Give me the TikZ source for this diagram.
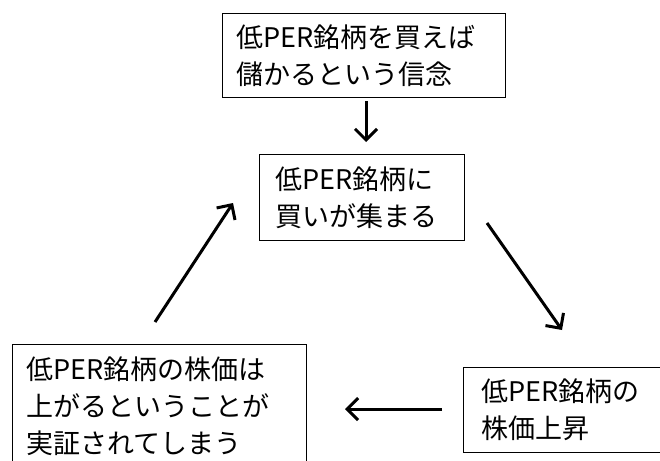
\documentclass[tikz,border=0pt]{standalone}
\usepackage{fontspec}
\setmainfont{Noto Sans CJK JP}
\usetikzlibrary{arrows.meta}
\tikzset{
  box/.style={draw=black, line width=1.2pt, anchor=north west, align=left, inner ysep=0pt,
    font=\fontsize{27}{37}\selectfont},
  flow/.style={line width=3pt, -{Straight Barb[length=11pt,width=22pt,line width=3pt]}}
}
\begin{document}
\begin{tikzpicture}[x=1pt,y=-1pt]
\useasboundingbox (0,0) rectangle (660,460);
\clip (0,0) rectangle (660,460);
\node[box, minimum width=283pt, minimum height=84pt, text width=255pt, inner xsep=14pt] (b1) at (222,13) {低PER銘柄を買えば\\儲かるという信念};
\node[box, minimum width=205pt, minimum height=86pt, text width=173pt, inner xsep=16pt] (b2) at (259,154) {低PER銘柄に\\買いが集まる};
\node[box, minimum width=294pt, minimum height=124pt, text width=266pt, inner xsep=14pt] (b3) at (12,344) {低PER銘柄の株価は\\上がるということが\\実証されてしまう};
\node[box, minimum width=220pt, minimum height=85pt, text width=184pt, inner xsep=18pt] (b4) at (463,367) {低PER銘柄の\\株価上昇};
\coordinate (a1s) at (366,101);
\coordinate (a1e) at (366,142);
\coordinate (a2s) at (487,223);
\coordinate (a2e) at (562,330);
\coordinate (a3s) at (442,409);
\coordinate (a3e) at (345,409);
\coordinate (a4s) at (155,322);
\coordinate (a4e) at (233,203);
\draw[flow] (a1s) -- (a1e);
\draw[flow] (a2s) -- (a2e);
\draw[flow] (a3s) -- (a3e);
\draw[flow] (a4s) -- (a4e);
\end{tikzpicture}
\end{document}
